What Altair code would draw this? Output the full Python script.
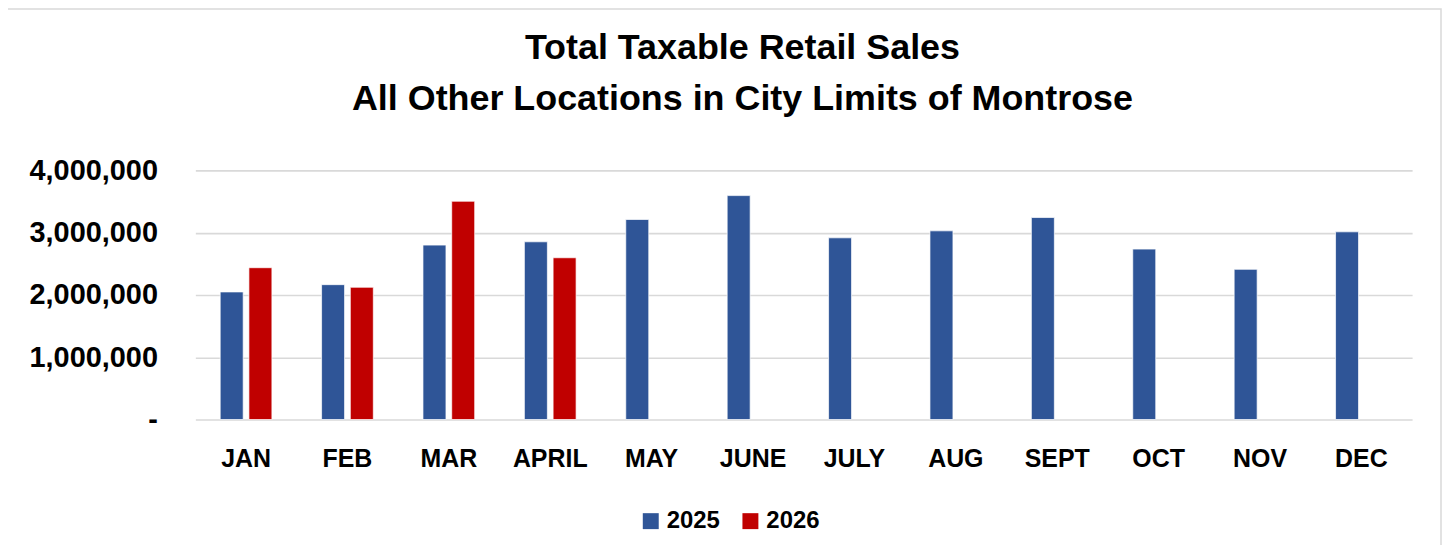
import altair as alt
import pandas as pd

months = ["JAN", "FEB", "MAR", "APRIL", "MAY", "JUNE", "JULY", "AUG", "SEPT", "OCT", "NOV", "DEC"]
sales_2025 = [2048000, 2165000, 2800000, 2853000, 3211000, 3595000,
              2917000, 3029000, 3243000, 2736000, 2411000, 3013000]
sales_2026 = [2437000, 2123000, 3504000, 2597000]
years = ["2025", "2026"]
colors = ["#2F5597", "#C00000"]
y_ticks = [0, 1000000, 2000000, 3000000, 4000000]
title_lines = ["Total Taxable Retail Sales", "All Other Locations in City Limits of Montrose"]

rows = []
for m, v in zip(months, sales_2025):
    rows.append({"month": m, "year": "2025", "sales": v})
for m, v in zip(months, sales_2026):
    rows.append({"month": m, "year": "2026", "sales": v})
df = pd.DataFrame(rows)

FONT = "Liberation Sans"

bars = alt.Chart(df).mark_bar(stroke="#FFFFFF", strokeWidth=0.7).encode(
    x=alt.X("month:N", sort=months, title=None,
            scale=alt.Scale(paddingInner=0.49, paddingOuter=0.245),
            axis=alt.Axis(labelAngle=0, labelFontSize=25, labelFont=FONT,
                          labelFontWeight="bold", labelColor="#000000",
                          labelPadding=27, ticks=False, tickSize=0, domain=False)),
    xOffset=alt.XOffset("year:N", sort=years,
                        scale=alt.Scale(paddingInner=0.2, paddingOuter=0)),
    y=alt.Y("sales:Q", title=None,
            scale=alt.Scale(domain=[0, 4000000], nice=False),
            axis=alt.Axis(values=y_ticks, labelFontSize=29, labelFont=FONT,
                          labelFontWeight="bold", labelColor="#000000",
                          labelPadding=38, ticks=False, tickSize=0, domain=False,
                          grid=True, gridColor="#D9D9D9", gridWidth=1.6,
                          labelExpr="datum.value == 0 ? '-\u00a0' : format(datum.value, ',')")),
    color=alt.Color("year:N", sort=years,
                    scale=alt.Scale(domain=years, range=colors),
                    legend=alt.Legend(title=None, orient="none", direction="horizontal",
                                      legendX=445, legendY=340, symbolType="square",
                                      symbolSize=256, symbolStrokeWidth=0,
                                      labelFontSize=24, labelFont=FONT,
                                      labelFontWeight="bold", labelColor="#000000",
                                      labelOffset=4, columnPadding=18, padding=0)),
)

frame = alt.Chart(pd.DataFrame({"a": [0]})).mark_rect(
    fill="transparent", stroke="#D9D9D9", strokeWidth=1.5
).encode(
    x=alt.value(-189), x2=alt.value(1250),
    y=alt.value(-162), y2=alt.value(420),
)

title1 = alt.Chart(pd.DataFrame({"t": [title_lines[0]]})).mark_text(
    font=FONT, fontSize=36, fontWeight="bold", color="#000000",
    align="center", baseline="alphabetic"
).encode(text="t:N", x=alt.value(549), y=alt.value(-112))

title2 = alt.Chart(pd.DataFrame({"t": [title_lines[1]]})).mark_text(
    font=FONT, fontSize=36, fontWeight="bold", color="#000000",
    align="center", baseline="alphabetic"
).encode(text="t:N", x=alt.value(549), y=alt.value(-61))

chart = alt.layer(frame, bars, title1, title2).properties(
    width=1221, height=250,
    autosize=alt.AutoSizeParams(type="none"),
    padding={"left": 188, "top": 162, "right": 30, "bottom": 125},
).configure_view(stroke=None)

chart.save("out.html", embed_options={"renderer": "svg", "actions": False})
